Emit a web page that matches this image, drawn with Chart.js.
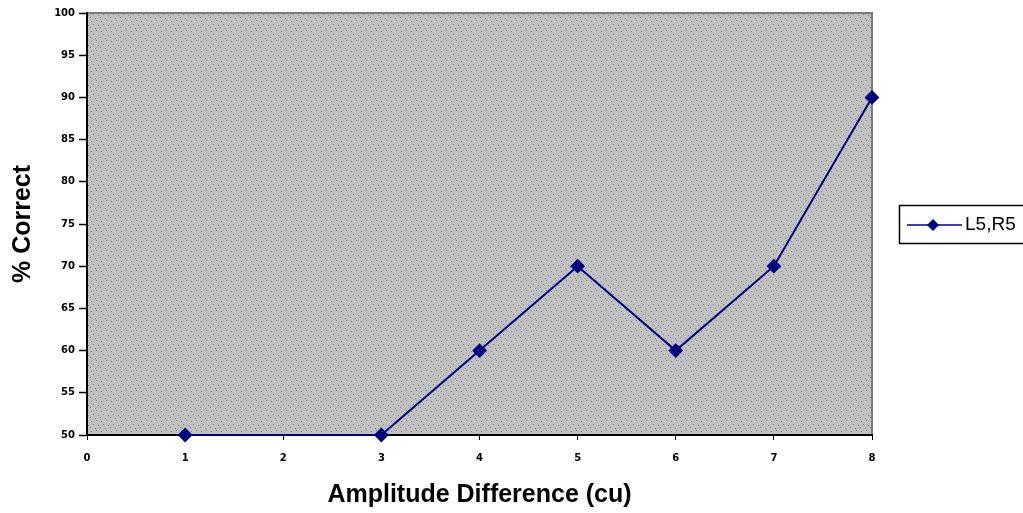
<!DOCTYPE html>
<html>
<head>
<meta charset="utf-8">
<script src="https://cdn.jsdelivr.net/npm/chart.js@4"></script>
<style>
  html, body { margin: 0; padding: 0; background: #fff; }
  #wrap { width: 1023px; height: 513px; position: relative; }
</style>
</head>
<body>
<div id="wrap"><canvas id="chart"></canvas></div>
<script>
  // data
  const ampDiff = [1, 3, 4, 5, 6, 7, 8];
  const pctCorrect = [50, 50, 60, 70, 60, 70, 90];
  const seriesName = 'L5,R5';
  const xTitle = 'Amplitude Difference (cu)';
  const yTitle = '% Correct';

  const NAVY = '#000080';

  // stippled grey plot background, like the old Excel fill
  function makeStipple() {
    const c = document.createElement('canvas');
    c.width = 10; c.height = 10;
    const g = c.getContext('2d');
    g.fillStyle = '#c0c0c0';
    g.fillRect(0, 0, 10, 10);
    g.fillStyle = '#848484';
    [[1, 1], [6, 0], [3, 4], [8, 5], [0, 7], [5, 8]].forEach(([x, y]) => g.fillRect(x, y, 1, 1));
    return c;
  }

  const plotBg = {
    id: 'plotBg',
    beforeDraw(chart) {
      const { ctx, chartArea: a } = chart;
      ctx.save();
      ctx.fillStyle = ctx.createPattern(makeStipple(), 'repeat');
      ctx.fillRect(a.left, a.top, a.right - a.left, a.bottom - a.top);
      // grey frame on top and right
      ctx.strokeStyle = '#7a7a7a';
      ctx.lineWidth = 2;
      ctx.beginPath();
      ctx.moveTo(a.left, a.top);
      ctx.lineTo(a.right, a.top);
      ctx.lineTo(a.right, a.bottom);
      ctx.stroke();
      ctx.restore();
    }
  };

  // boxed legend sitting right of the plot
  const boxLegend = {
    id: 'boxLegend',
    afterDraw(chart) {
      const { ctx } = chart;
      const x = 899, y = 205, h = 38;
      const midY = y + h / 2 + 1;
      ctx.save();
      ctx.fillStyle = '#fff';
      ctx.fillRect(x, y, 140, h);
      ctx.strokeStyle = '#000';
      ctx.lineWidth = 1.5;
      ctx.strokeRect(x + 0.5, y + 0.5, 140, h);
      ctx.strokeStyle = NAVY;
      ctx.lineWidth = 1.5;
      ctx.beginPath();
      ctx.moveTo(907, midY);
      ctx.lineTo(962, midY);
      ctx.stroke();
      ctx.fillStyle = NAVY;
      ctx.beginPath();
      ctx.moveTo(933, midY - 6);
      ctx.lineTo(939, midY);
      ctx.lineTo(933, midY + 6);
      ctx.lineTo(927, midY);
      ctx.closePath();
      ctx.fill();
      ctx.fillStyle = '#000';
      ctx.font = '19px "Liberation Sans", Arial, sans-serif';
      ctx.textBaseline = 'middle';
      ctx.fillText(chart.data.datasets[0].label, 965, midY);
      ctx.restore();
    }
  };

  const tickFont = { family: '"DejaVu Sans", sans-serif', size: 10, weight: 'bold' };
  const titleFont = { family: '"Liberation Sans", Arial, sans-serif', size: 25, weight: 'bold' };

  new Chart(document.getElementById('chart'), {
    type: 'line',
    data: {
      datasets: [{
        label: seriesName,
        data: ampDiff.map((x, i) => ({ x, y: pctCorrect[i] })),
        borderColor: NAVY,
        backgroundColor: NAVY,
        borderWidth: 2,
        pointStyle: 'rectRot',
        pointRadius: 6,
        pointHoverRadius: 6,
        tension: 0,
        clip: false
      }]
    },
    options: {
      responsive: true,
      maintainAspectRatio: false,
      animation: false,
      layout: { padding: { top: 13, right: 151, left: 0, bottom: 0 } },
      plugins: {
        legend: { display: false },
        tooltip: { enabled: false }
      },
      scales: {
        x: {
          type: 'linear',
          min: 0,
          max: 8,
          ticks: { stepSize: 1, color: '#000', font: tickFont, padding: 12, maxRotation: 0 },
          grid: { drawOnChartArea: false, color: '#000', tickLength: 5, tickWidth: 1 },
          border: { color: '#000', width: 2 },
          title: { display: true, text: xTitle, color: '#000', font: titleFont, padding: { top: 0, bottom: 3 } },
          afterFit(s) { s.height = 78; }
        },
        y: {
          min: 50,
          max: 100,
          ticks: { stepSize: 5, color: '#000', font: tickFont, padding: 4 },
          grid: { drawOnChartArea: false, color: '#000', tickLength: 8, tickWidth: 1.5 },
          border: { color: '#000', width: 2 },
          title: { display: true, text: yTitle, color: '#000', font: titleFont, padding: { top: 8, bottom: 0 } },
          afterFit(s) { s.width = 87; }
        }
      }
    },
    plugins: [plotBg, boxLegend]
  });
</script>
</body>
</html>
